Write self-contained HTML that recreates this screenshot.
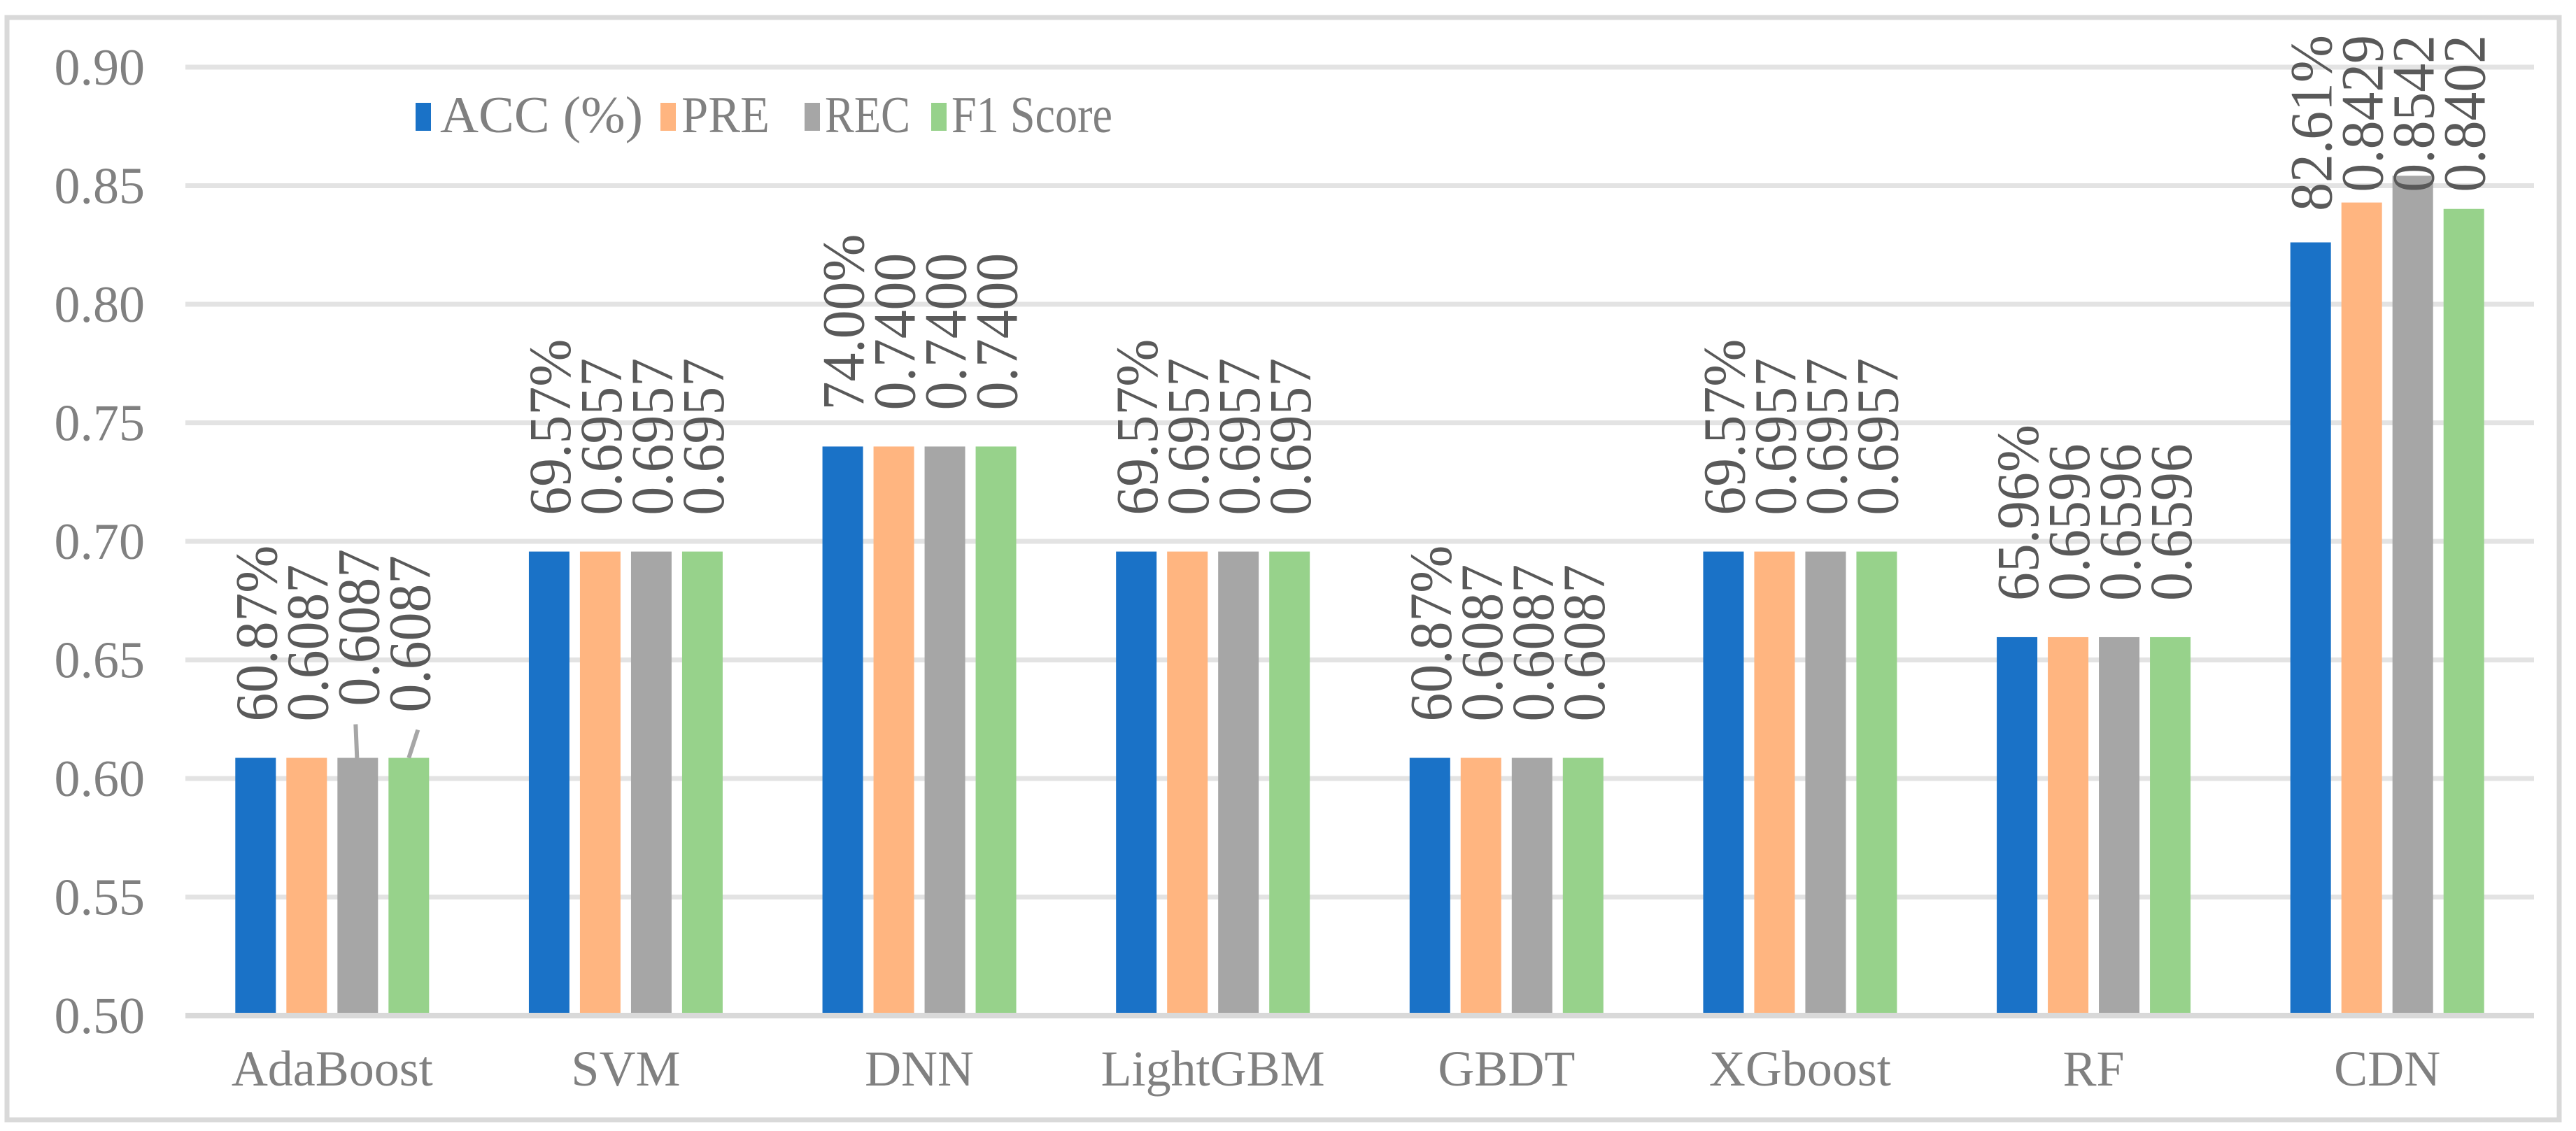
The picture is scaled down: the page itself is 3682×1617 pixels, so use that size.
<!DOCTYPE html>
<html><head><meta charset="utf-8"><style>
html,body{margin:0;padding:0;background:#fff}
svg{display:block}
text{font-family:"Liberation Serif","Times New Roman",serif}
</style></head><body>
<svg id="chart" width="3682" height="1617" viewBox="0 0 3682 1617" xmlns="http://www.w3.org/2000/svg">
<rect x="10" y="25" width="3648" height="1576" fill="#fff" stroke="#d9d9d9" stroke-width="7"/>
<g id="grid"></g><g id="bars"></g><g id="labels"></g><g id="axes"></g>
<g>
<rect x="594" y="147" width="22" height="40" fill="#1a72c7"/>
<text x="629" y="189" font-size="74" fill="#808080" textLength="290" lengthAdjust="spacingAndGlyphs">ACC (%)</text>
<rect x="944" y="147" width="22" height="40" fill="#ffb580"/>
<text x="974" y="189" font-size="74" fill="#808080" textLength="126" lengthAdjust="spacingAndGlyphs">PRE</text>
<rect x="1150" y="147" width="22" height="40" fill="#a6a6a6"/>
<text x="1179" y="189" font-size="74" fill="#808080" textLength="122" lengthAdjust="spacingAndGlyphs">REC</text>
<rect x="1331" y="147" width="22" height="40" fill="#97d28b"/>
<text x="1360" y="189" font-size="74" fill="#808080" textLength="230" lengthAdjust="spacingAndGlyphs">F1 Score</text>
</g>
</svg>
<script>
const categories = ["AdaBoost","SVM","DNN","LightGBM","GBDT","XGboost","RF","CDN"];
const accValues = [0.6087,0.6957,0.7400,0.6957,0.6087,0.6957,0.6596,0.8261];
const preValues = [0.6087,0.6957,0.7400,0.6957,0.6087,0.6957,0.6596,0.8429];
const recValues = [0.6087,0.6957,0.7400,0.6957,0.6087,0.6957,0.6596,0.8542];
const f1Values  = [0.6087,0.6957,0.7400,0.6957,0.6087,0.6957,0.6596,0.8402];
const yTicks = [0.50,0.55,0.60,0.65,0.70,0.75,0.80,0.85,0.90];
const yTickLabels = ["0.50","0.55","0.60","0.65","0.70","0.75","0.80","0.85","0.90"];

const NS="http://www.w3.org/2000/svg";
const X0=265, X1=3622, YMIN=0.5, YMAX=0.9, PY0=1452, PY1=96;
const yScale=v=>PY0-(v-YMIN)/(YMAX-YMIN)*(PY0-PY1);
const catW=(X1-X0)/categories.length;
const xCenter=i=>X0+catW*(i+0.5);
const BW=58, STEP=73;
function mk(tag,attrs,parent){const e=document.createElementNS(NS,tag);for(const k in attrs)e.setAttribute(k,attrs[k]);parent.appendChild(e);return e;}
const grid=document.getElementById('grid'),bars=document.getElementById('bars'),labels=document.getElementById('labels'),axes=document.getElementById('axes');
yTicks.forEach((t,i)=>{
  const y=yScale(t);
  if(i>0){const l=mk('line',{x1:X0,x2:X1,y1:y,y2:y,stroke:'#e3e3e3','stroke-width':7},grid);
  
  }
  const tx=mk('text',{x:207,y:y+25,'text-anchor':'end','font-size':74,fill:'#808080'},axes);
  tx.textContent=yTickLabels[i];
  
  
});
const base=mk('line',{x1:X0,x2:X1,y1:PY0,y2:PY0,stroke:'#d9d9d9','stroke-width':8},axes);


const series=[["acc",accValues,"#1a72c7",true],["pre",preValues,"#ffb580",false],["rec",recValues,"#a6a6a6",false],["f1",f1Values,"#97d28b",false]];
const adaGaps=[52,52,74,65];
categories.forEach((c,i)=>{
  const cx=xCenter(i);
  const ct=mk('text',{x:cx,y:1552,'text-anchor':'middle','font-size':72,fill:'#808080'},axes);
  ct.textContent=c;
  
  
  series.forEach((s,j)=>{
    const v=s[1][i];
    const bx=cx-(1.5*STEP)-BW/2+j*STEP;
    const y=yScale(v);
    const r=mk('rect',{x:bx,y:y,width:BW,height:PY0-y,fill:s[2]},bars);
    
    
    const gap=(i===0)?adaGaps[j]:52;
    const lx=bx+BW+1;
    const t=mk('text',{x:0,y:0,'font-size':86,fill:'#595959'},labels);
    t.textContent=s[3]?(v*100).toFixed(2)+'%':v.toFixed(4);
    
    
    let len=236; try{len=t.getComputedTextLength();}catch(e){}
    len*=0.95;
    const ly=Math.max(y-gap, 50+len);
    t.setAttribute('transform','translate('+lx+','+ly+') rotate(-90) scale(0.95,1)');
    if(i===0&&j>=2){
      const mx=bx+BW/2+(j===3?0:-1);
      const ld=mk('line',{x1:mx,y1:y,x2:mx+(j===3?13:-2),y2:y-(j===3?40:48),stroke:'#a6a6a6','stroke-width':6},labels);
      
      
    }
  });
});
</script>
</body></html>
